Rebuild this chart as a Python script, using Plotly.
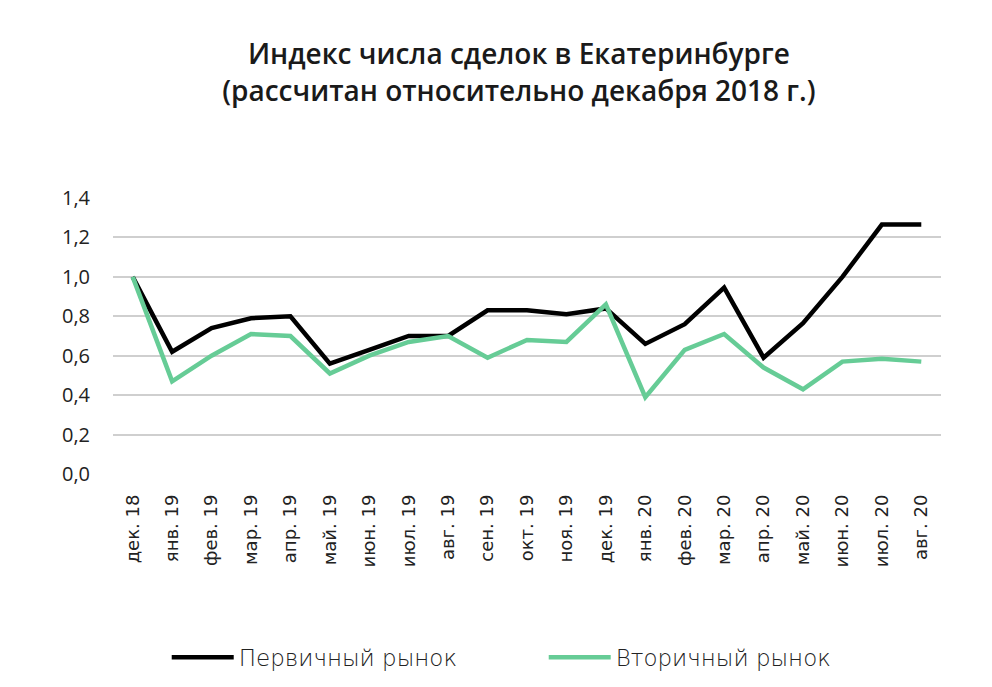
import plotly.graph_objects as go

# Месяцы (подписи оси X)
months = [
    "дек. 18", "янв. 19", "фев. 19", "мар. 19", "апр. 19", "май. 19", "июн. 19",
    "июл. 19", "авг. 19", "сен. 19", "окт. 19", "ноя. 19", "дек. 19", "янв. 20",
    "фев. 20", "мар. 20", "апр. 20", "май. 20", "июн. 20", "июл. 20", "авг. 20",
]

# Индекс числа сделок
primary = [1.00, 0.62, 0.74, 0.79, 0.80, 0.56, 0.63, 0.70, 0.70, 0.83, 0.83,
           0.81, 0.84, 0.66, 0.76, 0.945, 0.59, 0.765, 1.00, 1.265, 1.265]
secondary = [1.00, 0.47, 0.60, 0.71, 0.70, 0.51, 0.60, 0.67, 0.70, 0.59, 0.68,
             0.67, 0.86, 0.39, 0.63, 0.71, 0.54, 0.43, 0.57, 0.585, 0.57]

y_ticks = [0, 0.2, 0.4, 0.6, 0.8, 1.0, 1.2, 1.4]
y_labels = ["0,0", "0,2", "0,4", "0,6", "0,8", "1,0", "1,2", "1,4"]

FONT = "Open Sans, Noto Sans, sans-serif"

fig = go.Figure()
fig.add_trace(go.Scatter(
    x=months, y=primary, name="Первичный рынок", mode="lines",
    line=dict(color="#000000", width=4.5),
))
fig.add_trace(go.Scatter(
    x=months, y=secondary, name="Вторичный рынок", mode="lines",
    line=dict(color="#66CC96", width=4.5),
))

fig.update_layout(
    width=992,
    height=687,
    paper_bgcolor="white",
    plot_bgcolor="white",
    margin=dict(l=105, r=59, t=190, b=221),
    font=dict(family=FONT, color="#222222"),
    title=dict(
        text="Индекс числа сделок в Екатеринбурге<br>(рассчитан относительно декабря 2018 г.)",
        x=0.515, xref="container", xanchor="center",
        y=0.918, yref="container", yanchor="top",
        font=dict(family=FONT, size=28, color="#1a1a1a", weight=600),
    ),
    xaxis=dict(
        type="category",
        range=[-0.5, len(months) - 0.5],
        tickangle=-90,
        tickfont=dict(size=18, color="#222222", family="DejaVu Sans"),
        showgrid=False,
        showline=False,
        ticks="",
        ticklabelstandoff=16,
        fixedrange=True,
    ),
    yaxis=dict(
        range=[0, 1.4],
        tickvals=y_ticks,
        ticktext=y_labels,
        tickfont=dict(size=20, color="#222222"),
        showgrid=True,
        gridcolor="#cfcfcf",
        gridwidth=1.5,
        zeroline=False,
        ticks="",
        ticklabelstandoff=22,
        fixedrange=True,
    ),
    legend=dict(
        orientation="h",
        x=0.16, xref="container", xanchor="left",
        y=0.055, yref="container", yanchor="middle",
        font=dict(size=23, color="#222222", family="DejaVu Sans", weight=300),
        itemwidth=62,
        entrywidth=300,
        traceorder="normal",
    ),
    showlegend=True,
)

fig.write_html("out.html")
